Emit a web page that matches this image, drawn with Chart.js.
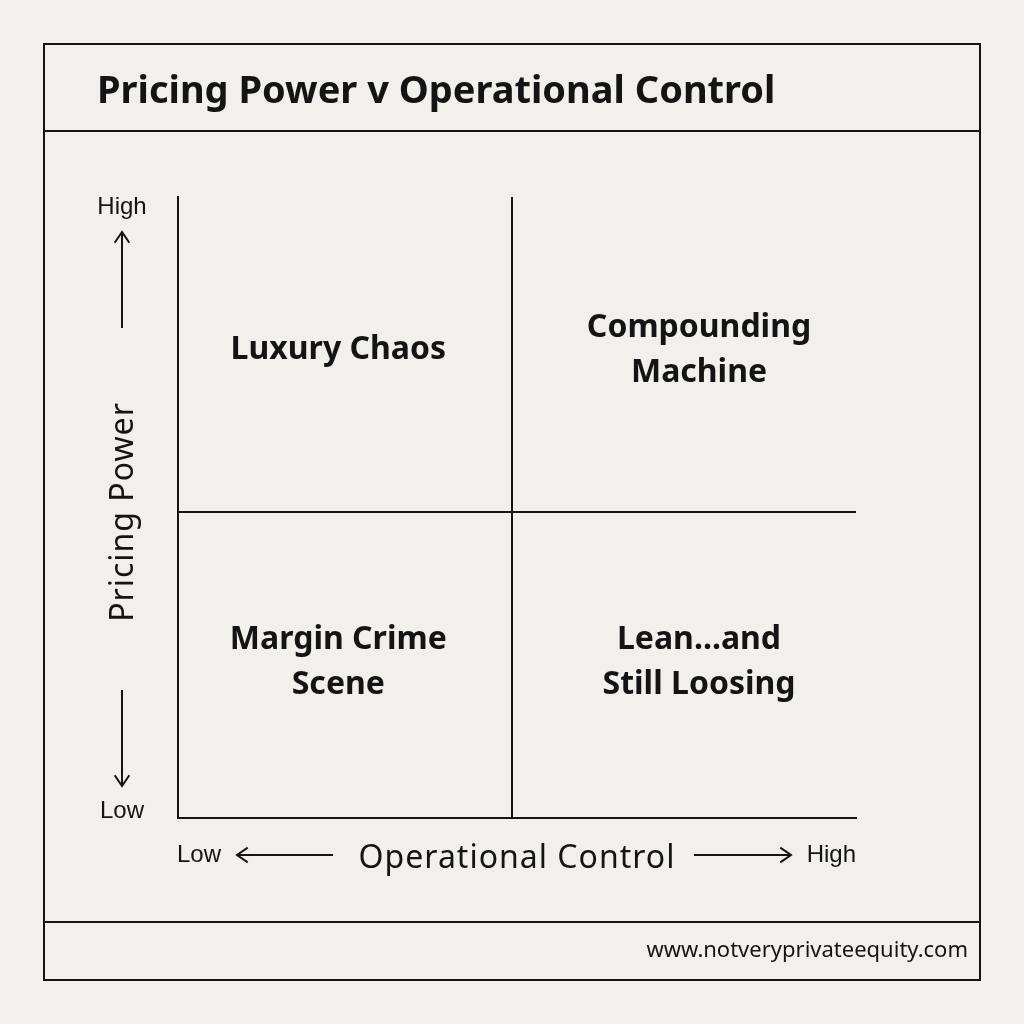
<!DOCTYPE html>
<html>
<head>
<meta charset="utf-8">
<script src="https://cdn.jsdelivr.net/npm/chart.js@4/dist/chart.umd.min.js"></script>
<style>
  html, body { margin: 0; padding: 0; background: #f1f0ea; }
  #wrap { width: 1024px; height: 1024px; }
</style>
</head>
<body>
<div id="wrap"><canvas id="matrix" width="1024" height="1024"></canvas></div>
<script>
// data
let chartTitle = 'Pricing Power v Operational Control';
let xAxisTitle = 'Operational Control';
let yAxisTitle = 'Pricing Power';
let axisEnds = ['Low', 'High'];
let quadrantNames = [['Luxury Chaos'], ['Compounding', 'Machine'], ['Margin Crime', 'Scene'], ['Lean...and', 'Still Loosing']];
let quadrantX = [0.48, 1.56, 0.48, 1.56];
let quadrantY = [1.53, 1.53, 0.51, 0.51];
let footerText = 'www.notveryprivateequity.com';

const ink = '#141414';

function arrow(ctx, x1, y1, x2, y2) {
  ctx.beginPath();
  ctx.moveTo(x1, y1);
  ctx.lineTo(x2, y2);
  ctx.stroke();
  const a = Math.atan2(y2 - y1, x2 - x1);
  const h = 13;
  ctx.beginPath();
  ctx.moveTo(x2 - h * Math.cos(a - 0.6), y2 - h * Math.sin(a - 0.6));
  ctx.lineTo(x2, y2);
  ctx.lineTo(x2 - h * Math.cos(a + 0.6), y2 - h * Math.sin(a + 0.6));
  ctx.stroke();
}

const decor = {
  id: 'decor',
  beforeDraw(chart) {
    const ctx = chart.ctx;
    ctx.save();
    ctx.fillStyle = '#f1f0ea';
    ctx.fillRect(0, 0, chart.width, chart.height);
    ctx.restore();
  },
  afterDraw(chart) {
    const ctx = chart.ctx;
    const xs = chart.scales.x, ys = chart.scales.y;
    ctx.save();
    // frame
    ctx.strokeStyle = ink;
    ctx.lineWidth = 2;
    ctx.strokeRect(44, 44, 936, 936);
    ctx.beginPath();
    ctx.moveTo(44, 131); ctx.lineTo(980, 131);
    ctx.moveTo(44, 922); ctx.lineTo(980, 922);
    ctx.stroke();

    ctx.fillStyle = ink;
    // title
    ctx.font = 'bold 38px "Noto Sans"';
    ctx.textAlign = 'left';
    ctx.textBaseline = 'alphabetic';
    ctx.fillText(chartTitle, 97, 103);

    // quadrant labels
    ctx.textBaseline = 'middle';
    ctx.font = 'bold 32px "Noto Sans"';
    ctx.textAlign = 'center';
    const ds = chart.data.datasets[0].data;
    ds.forEach((p, i) => {
      const px = xs.getPixelForValue(p.x);
      const py = ys.getPixelForValue(p.y);
      const lines = quadrantNames[i];
      const lh = 45;
      lines.forEach((t, j) => {
        ctx.fillText(t, px, py + (j - (lines.length - 1) / 2) * lh);
      });
    });

    // axis titles
    ctx.font = '32px "Noto Sans"';
    ctx.letterSpacing = '1px';
    ctx.fillText(xAxisTitle, 517, 859);
    ctx.save();
    ctx.translate(124, 512);
    ctx.rotate(-Math.PI / 2);
    ctx.fillText(yAxisTitle, 0, 0);
    ctx.restore();
    ctx.letterSpacing = '0px';

    // axis ends
    ctx.font = '24px "Liberation Sans"';
    ctx.fillText(axisEnds[1], 122, 207);
    ctx.fillText(axisEnds[0], 122, 811);
    ctx.textAlign = 'left';
    ctx.fillText(axisEnds[0], 177, 855);
    ctx.textAlign = 'right';
    ctx.fillText(axisEnds[1], 856, 855);

    // arrows
    ctx.lineWidth = 2;
    arrow(ctx, 122, 328, 122, 232);
    arrow(ctx, 122, 690, 122, 786);
    arrow(ctx, 333, 855, 237, 855);
    arrow(ctx, 694, 855, 791, 855);

    // footer
    ctx.font = '22px "Noto Sans"';
    ctx.textAlign = 'right';
    ctx.fillText(footerText, 968, 951);
    ctx.restore();
  }
};

const gridAtMid = {
  display: true,
  drawTicks: false,
  lineWidth: 2,
  color: (c) => (c.tick && c.tick.value === 1 ? ink : 'rgba(0,0,0,0)')
};

new Chart(document.getElementById('matrix'), {
  type: 'scatter',
  data: {
    datasets: [{
      data: quadrantX.map((x, i) => ({ x: x, y: quadrantY[i] })),
      pointRadius: 0,
      pointHoverRadius: 0
    }]
  },
  options: {
    responsive: false,
    animation: false,
    devicePixelRatio: 1,
    layout: { padding: { left: 178, right: 168, top: 197, bottom: 206 } },
    plugins: { legend: { display: false }, tooltip: { enabled: false }, title: { display: false } },
    scales: {
      x: {
        type: 'linear', min: 0, max: 2.03,
        ticks: { display: false, stepSize: 1 },
        grid: gridAtMid,
        border: { display: true, color: ink, width: 2 }
      },
      y: {
        type: 'linear', min: 0, max: 2.03,
        ticks: { display: false, stepSize: 1 },
        grid: gridAtMid,
        border: { display: true, color: ink, width: 2 }
      }
    }
  },
  plugins: [decor]
});
</script>
</body>
</html>
